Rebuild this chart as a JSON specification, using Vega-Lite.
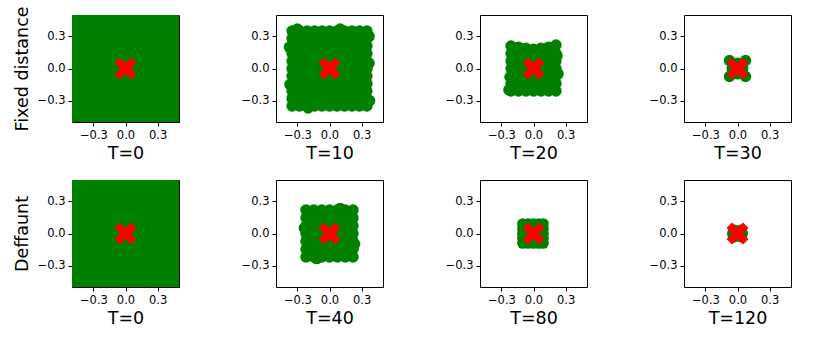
{
  "$schema": "https://vega.github.io/schema/vega-lite/v6.json",
  "padding": {"left": 12, "top": 5, "right": 10, "bottom": 5},
  "background": "white",
  "config": {
    "view": {"stroke": "black", "strokeWidth": 1},
    "axis": {"grid": false, "domain": false, "tickColor": "black", "tickSize": 4, "tickWidth": 1, "labelFont": "DejaVu Sans", "labelFontSize": 11.5, "labelColor": "black", "labelPadding": 3, "titleFont": "DejaVu Sans", "titleFontSize": 17.5, "titleFontWeight": "normal", "titleColor": "black"},
    "axisX": {"titlePadding": 4},
    "axisY": {"titlePadding": 6}
  },
  "datasets": {
    "c": [{"x": 0, "y": 0}],
    "full": [
      {"x":-0.5,"y":-0.5},{"x":-0.4,"y":-0.5},{"x":-0.3,"y":-0.5},{"x":-0.2,"y":-0.5},{"x":-0.1,"y":-0.5},{"x":0,"y":-0.5},{"x":0.1,"y":-0.5},{"x":0.2,"y":-0.5},{"x":0.3,"y":-0.5},{"x":0.4,"y":-0.5},{"x":0.5,"y":-0.5},
      {"x":-0.5,"y":-0.4},{"x":-0.4,"y":-0.4},{"x":-0.3,"y":-0.4},{"x":-0.2,"y":-0.4},{"x":-0.1,"y":-0.4},{"x":0,"y":-0.4},{"x":0.1,"y":-0.4},{"x":0.2,"y":-0.4},{"x":0.3,"y":-0.4},{"x":0.4,"y":-0.4},{"x":0.5,"y":-0.4},
      {"x":-0.5,"y":-0.3},{"x":-0.4,"y":-0.3},{"x":-0.3,"y":-0.3},{"x":-0.2,"y":-0.3},{"x":-0.1,"y":-0.3},{"x":0,"y":-0.3},{"x":0.1,"y":-0.3},{"x":0.2,"y":-0.3},{"x":0.3,"y":-0.3},{"x":0.4,"y":-0.3},{"x":0.5,"y":-0.3},
      {"x":-0.5,"y":-0.2},{"x":-0.4,"y":-0.2},{"x":-0.3,"y":-0.2},{"x":-0.2,"y":-0.2},{"x":-0.1,"y":-0.2},{"x":0,"y":-0.2},{"x":0.1,"y":-0.2},{"x":0.2,"y":-0.2},{"x":0.3,"y":-0.2},{"x":0.4,"y":-0.2},{"x":0.5,"y":-0.2},
      {"x":-0.5,"y":-0.1},{"x":-0.4,"y":-0.1},{"x":-0.3,"y":-0.1},{"x":-0.2,"y":-0.1},{"x":-0.1,"y":-0.1},{"x":0,"y":-0.1},{"x":0.1,"y":-0.1},{"x":0.2,"y":-0.1},{"x":0.3,"y":-0.1},{"x":0.4,"y":-0.1},{"x":0.5,"y":-0.1},
      {"x":-0.5,"y":0},{"x":-0.4,"y":0},{"x":-0.3,"y":0},{"x":-0.2,"y":0},{"x":-0.1,"y":0},{"x":0,"y":0},{"x":0.1,"y":0},{"x":0.2,"y":0},{"x":0.3,"y":0},{"x":0.4,"y":0},{"x":0.5,"y":0},
      {"x":-0.5,"y":0.1},{"x":-0.4,"y":0.1},{"x":-0.3,"y":0.1},{"x":-0.2,"y":0.1},{"x":-0.1,"y":0.1},{"x":0,"y":0.1},{"x":0.1,"y":0.1},{"x":0.2,"y":0.1},{"x":0.3,"y":0.1},{"x":0.4,"y":0.1},{"x":0.5,"y":0.1},
      {"x":-0.5,"y":0.2},{"x":-0.4,"y":0.2},{"x":-0.3,"y":0.2},{"x":-0.2,"y":0.2},{"x":-0.1,"y":0.2},{"x":0,"y":0.2},{"x":0.1,"y":0.2},{"x":0.2,"y":0.2},{"x":0.3,"y":0.2},{"x":0.4,"y":0.2},{"x":0.5,"y":0.2},
      {"x":-0.5,"y":0.3},{"x":-0.4,"y":0.3},{"x":-0.3,"y":0.3},{"x":-0.2,"y":0.3},{"x":-0.1,"y":0.3},{"x":0,"y":0.3},{"x":0.1,"y":0.3},{"x":0.2,"y":0.3},{"x":0.3,"y":0.3},{"x":0.4,"y":0.3},{"x":0.5,"y":0.3},
      {"x":-0.5,"y":0.4},{"x":-0.4,"y":0.4},{"x":-0.3,"y":0.4},{"x":-0.2,"y":0.4},{"x":-0.1,"y":0.4},{"x":0,"y":0.4},{"x":0.1,"y":0.4},{"x":0.2,"y":0.4},{"x":0.3,"y":0.4},{"x":0.4,"y":0.4},{"x":0.5,"y":0.4},
      {"x":-0.5,"y":0.5},{"x":-0.4,"y":0.5},{"x":-0.3,"y":0.5},{"x":-0.2,"y":0.5},{"x":-0.1,"y":0.5},{"x":0,"y":0.5},{"x":0.1,"y":0.5},{"x":0.2,"y":0.5},{"x":0.3,"y":0.5},{"x":0.4,"y":0.5},{"x":0.5,"y":0.5}
    ],
    "f10": [
      {"x":-0.35,"y":-0.35},{"x":-0.28,"y":-0.35},{"x":-0.21,"y":-0.35},{"x":-0.14,"y":-0.35},{"x":-0.07,"y":-0.35},{"x":0,"y":-0.35},{"x":0.07,"y":-0.35},{"x":0.14,"y":-0.35},{"x":0.21,"y":-0.35},{"x":0.28,"y":-0.35},{"x":0.35,"y":-0.35},
      {"x":-0.35,"y":-0.28},{"x":-0.28,"y":-0.28},{"x":-0.21,"y":-0.28},{"x":-0.14,"y":-0.28},{"x":-0.07,"y":-0.28},{"x":0,"y":-0.28},{"x":0.07,"y":-0.28},{"x":0.14,"y":-0.28},{"x":0.21,"y":-0.28},{"x":0.28,"y":-0.28},{"x":0.35,"y":-0.28},
      {"x":-0.35,"y":-0.21},{"x":-0.28,"y":-0.21},{"x":-0.21,"y":-0.21},{"x":-0.14,"y":-0.21},{"x":-0.07,"y":-0.21},{"x":0,"y":-0.21},{"x":0.07,"y":-0.21},{"x":0.14,"y":-0.21},{"x":0.21,"y":-0.21},{"x":0.28,"y":-0.21},{"x":0.35,"y":-0.21},
      {"x":-0.35,"y":-0.14},{"x":-0.28,"y":-0.14},{"x":-0.21,"y":-0.14},{"x":-0.14,"y":-0.14},{"x":-0.07,"y":-0.14},{"x":0,"y":-0.14},{"x":0.07,"y":-0.14},{"x":0.14,"y":-0.14},{"x":0.21,"y":-0.14},{"x":0.28,"y":-0.14},{"x":0.35,"y":-0.14},
      {"x":-0.35,"y":-0.07},{"x":-0.28,"y":-0.07},{"x":-0.21,"y":-0.07},{"x":-0.14,"y":-0.07},{"x":-0.07,"y":-0.07},{"x":0,"y":-0.07},{"x":0.07,"y":-0.07},{"x":0.14,"y":-0.07},{"x":0.21,"y":-0.07},{"x":0.28,"y":-0.07},{"x":0.35,"y":-0.07},
      {"x":-0.35,"y":0},{"x":-0.28,"y":0},{"x":-0.21,"y":0},{"x":-0.14,"y":0},{"x":-0.07,"y":0},{"x":0,"y":0},{"x":0.07,"y":0},{"x":0.14,"y":0},{"x":0.21,"y":0},{"x":0.28,"y":0},{"x":0.35,"y":0},
      {"x":-0.35,"y":0.07},{"x":-0.28,"y":0.07},{"x":-0.21,"y":0.07},{"x":-0.14,"y":0.07},{"x":-0.07,"y":0.07},{"x":0,"y":0.07},{"x":0.07,"y":0.07},{"x":0.14,"y":0.07},{"x":0.21,"y":0.07},{"x":0.28,"y":0.07},{"x":0.35,"y":0.07},
      {"x":-0.35,"y":0.14},{"x":-0.28,"y":0.14},{"x":-0.21,"y":0.14},{"x":-0.14,"y":0.14},{"x":-0.07,"y":0.14},{"x":0,"y":0.14},{"x":0.07,"y":0.14},{"x":0.14,"y":0.14},{"x":0.21,"y":0.14},{"x":0.28,"y":0.14},{"x":0.35,"y":0.14},
      {"x":-0.35,"y":0.21},{"x":-0.28,"y":0.21},{"x":-0.21,"y":0.21},{"x":-0.14,"y":0.21},{"x":-0.07,"y":0.21},{"x":0,"y":0.21},{"x":0.07,"y":0.21},{"x":0.14,"y":0.21},{"x":0.21,"y":0.21},{"x":0.28,"y":0.21},{"x":0.35,"y":0.21},
      {"x":-0.35,"y":0.28},{"x":-0.28,"y":0.28},{"x":-0.21,"y":0.28},{"x":-0.14,"y":0.28},{"x":-0.07,"y":0.28},{"x":0,"y":0.28},{"x":0.07,"y":0.28},{"x":0.14,"y":0.28},{"x":0.21,"y":0.28},{"x":0.28,"y":0.28},{"x":0.35,"y":0.28},
      {"x":-0.35,"y":0.35},{"x":-0.28,"y":0.35},{"x":-0.21,"y":0.35},{"x":-0.14,"y":0.35},{"x":-0.07,"y":0.35},{"x":0,"y":0.35},{"x":0.07,"y":0.35},{"x":0.14,"y":0.35},{"x":0.21,"y":0.35},{"x":0.28,"y":0.35},{"x":0.35,"y":0.35},
      {"x":-0.375,"y":0.2},{"x":0.375,"y":-0.3},{"x":0.1,"y":0.37},{"x":-0.2,"y":-0.37},{"x":0.37,"y":0.05},{"x":-0.37,"y":-0.15},{"x":0.37,"y":0.3},{"x":-0.3,"y":0.37}
    ],
    "f20": [
      {"x":-0.21,"y":-0.21},{"x":-0.14,"y":-0.21},{"x":-0.07,"y":-0.21},{"x":0,"y":-0.21},{"x":0.07,"y":-0.21},{"x":0.14,"y":-0.21},{"x":0.21,"y":-0.21},
      {"x":-0.21,"y":-0.14},{"x":-0.14,"y":-0.14},{"x":-0.07,"y":-0.14},{"x":0,"y":-0.14},{"x":0.07,"y":-0.14},{"x":0.14,"y":-0.14},{"x":0.21,"y":-0.14},
      {"x":-0.21,"y":-0.07},{"x":-0.14,"y":-0.07},{"x":-0.07,"y":-0.07},{"x":0,"y":-0.07},{"x":0.07,"y":-0.07},{"x":0.14,"y":-0.07},{"x":0.21,"y":-0.07},
      {"x":-0.21,"y":0},{"x":-0.14,"y":0},{"x":-0.07,"y":0},{"x":0,"y":0},{"x":0.07,"y":0},{"x":0.14,"y":0},{"x":0.21,"y":0},
      {"x":-0.21,"y":0.07},{"x":-0.14,"y":0.07},{"x":-0.07,"y":0.07},{"x":0,"y":0.07},{"x":0.07,"y":0.07},{"x":0.14,"y":0.07},{"x":0.21,"y":0.07},
      {"x":-0.21,"y":0.14},{"x":-0.14,"y":0.14},{"x":-0.07,"y":0.14},{"x":0,"y":0.14},{"x":0.07,"y":0.14},{"x":0.14,"y":0.14},{"x":0.21,"y":0.14},
      {"x":-0.21,"y":0.21},{"x":-0.14,"y":0.2},{"x":-0.07,"y":0.19},{"x":0,"y":0.18},{"x":0.07,"y":0.19},{"x":0.14,"y":0.2},{"x":0.21,"y":0.22},
      {"x":-0.23,"y":-0.2},{"x":0.23,"y":-0.05},{"x":-0.22,"y":-0.08},{"x":0.22,"y":0.12}
    ],
    "f30": [
      {"x":0,"y":0},{"x":-0.075,"y":-0.075},{"x":0.075,"y":-0.075},{"x":-0.075,"y":0.075},{"x":0.075,"y":0.075},
      {"x":-0.04,"y":-0.04},{"x":0.04,"y":-0.04},{"x":-0.04,"y":0.04},{"x":0.04,"y":0.04},
      {"x":0,"y":-0.05},{"x":0,"y":0.05},{"x":-0.05,"y":0},{"x":0.05,"y":0}
    ],
    "d40": [
      {"x":-0.22,"y":-0.22},{"x":-0.147,"y":-0.22},{"x":-0.073,"y":-0.22},{"x":0,"y":-0.22},{"x":0.073,"y":-0.22},{"x":0.147,"y":-0.22},{"x":0.22,"y":-0.22},
      {"x":-0.22,"y":-0.147},{"x":-0.147,"y":-0.147},{"x":-0.073,"y":-0.147},{"x":0,"y":-0.147},{"x":0.073,"y":-0.147},{"x":0.147,"y":-0.147},{"x":0.22,"y":-0.147},
      {"x":-0.22,"y":-0.073},{"x":-0.147,"y":-0.073},{"x":-0.073,"y":-0.073},{"x":0,"y":-0.073},{"x":0.073,"y":-0.073},{"x":0.147,"y":-0.073},{"x":0.22,"y":-0.073},
      {"x":-0.22,"y":0},{"x":-0.147,"y":0},{"x":-0.073,"y":0},{"x":0,"y":0},{"x":0.073,"y":0},{"x":0.147,"y":0},{"x":0.22,"y":0},
      {"x":-0.22,"y":0.073},{"x":-0.147,"y":0.073},{"x":-0.073,"y":0.073},{"x":0,"y":0.073},{"x":0.073,"y":0.073},{"x":0.147,"y":0.073},{"x":0.22,"y":0.073},
      {"x":-0.22,"y":0.147},{"x":-0.147,"y":0.147},{"x":-0.073,"y":0.147},{"x":0,"y":0.147},{"x":0.073,"y":0.147},{"x":0.147,"y":0.147},{"x":0.22,"y":0.147},
      {"x":-0.22,"y":0.22},{"x":-0.147,"y":0.22},{"x":-0.073,"y":0.22},{"x":0,"y":0.22},{"x":0.073,"y":0.22},{"x":0.147,"y":0.22},{"x":0.22,"y":0.22},
      {"x":-0.235,"y":0.05},{"x":0.235,"y":-0.1},{"x":0.1,"y":0.235},{"x":-0.12,"y":-0.235}
    ],
    "d80": [
      {"x":-0.1,"y":-0.09},{"x":-0.05,"y":-0.09},{"x":0,"y":-0.09},{"x":0.05,"y":-0.09},{"x":0.09,"y":-0.09},
      {"x":-0.1,"y":-0.045},{"x":-0.05,"y":-0.045},{"x":0,"y":-0.045},{"x":0.05,"y":-0.045},{"x":0.09,"y":-0.045},
      {"x":-0.1,"y":0},{"x":-0.05,"y":0},{"x":0,"y":0},{"x":0.05,"y":0},{"x":0.09,"y":0},
      {"x":-0.1,"y":0.045},{"x":-0.05,"y":0.045},{"x":0,"y":0.045},{"x":0.05,"y":0.045},{"x":0.09,"y":0.045},
      {"x":-0.1,"y":0.09},{"x":-0.05,"y":0.09},{"x":0,"y":0.09},{"x":0.05,"y":0.09},{"x":0.09,"y":0.09}
    ],
    "d120": [
      {"x":0,"y":0},{"x":-0.03,"y":-0.03},{"x":0.03,"y":-0.03},{"x":-0.03,"y":0.03},{"x":0.03,"y":0.03},{"x":-0.045,"y":0},{"x":0.045,"y":0}
    ]
  },
  "vconcat": [
    {
      "hconcat": [
        {"width": 107, "height": 107,
         "encoding": {"x": {"field": "x", "type": "quantitative", "scale": {"domain": [-0.5, 0.5], "nice": false, "zero": false}, "axis": {"values": [-0.3, 0, 0.3], "format": ".1f", "title": "T=0"}},
                      "y": {"field": "y", "type": "quantitative", "scale": {"domain": [-0.5, 0.5], "nice": false, "zero": false}, "axis": {"values": [-0.3, 0, 0.3], "format": ".1f", "title": "Fixed distance"}}},
         "layer": [
           {"data": {"name": "full"}, "mark": {"type": "point", "filled": true, "shape": "circle", "size": 260, "color": "#008000", "opacity": 1, "clip": true}},
           {"data": {"name": "c"}, "mark": {"type": "point", "filled": true, "shape": "M-1,-0.5L-0.5,-1L0,-0.5L0.5,-1L1,-0.5L0.5,0L1,0.5L0.5,1L0,0.5L-0.5,1L-1,0.5L-0.5,0Z", "size": 484, "color": "#ff0000", "opacity": 1}}
         ]},
        {"width": 107, "height": 107,
         "encoding": {"x": {"field": "x", "type": "quantitative", "scale": {"domain": [-0.5, 0.5], "nice": false, "zero": false}, "axis": {"values": [-0.3, 0, 0.3], "format": ".1f", "title": "T=10"}},
                      "y": {"field": "y", "type": "quantitative", "scale": {"domain": [-0.5, 0.5], "nice": false, "zero": false}, "axis": {"values": [-0.3, 0, 0.3], "format": ".1f", "title": null}}},
         "layer": [
           {"data": {"name": "f10"}, "mark": {"type": "point", "filled": true, "shape": "circle", "size": 130, "color": "#008000", "opacity": 1, "clip": true}},
           {"data": {"name": "c"}, "mark": {"type": "point", "filled": true, "shape": "M-1,-0.5L-0.5,-1L0,-0.5L0.5,-1L1,-0.5L0.5,0L1,0.5L0.5,1L0,0.5L-0.5,1L-1,0.5L-0.5,0Z", "size": 484, "color": "#ff0000", "opacity": 1}}
         ]},
        {"width": 107, "height": 107,
         "encoding": {"x": {"field": "x", "type": "quantitative", "scale": {"domain": [-0.5, 0.5], "nice": false, "zero": false}, "axis": {"values": [-0.3, 0, 0.3], "format": ".1f", "title": "T=20"}},
                      "y": {"field": "y", "type": "quantitative", "scale": {"domain": [-0.5, 0.5], "nice": false, "zero": false}, "axis": {"values": [-0.3, 0, 0.3], "format": ".1f", "title": null}}},
         "layer": [
           {"data": {"name": "f20"}, "mark": {"type": "point", "filled": true, "shape": "circle", "size": 130, "color": "#008000", "opacity": 1, "clip": true}},
           {"data": {"name": "c"}, "mark": {"type": "point", "filled": true, "shape": "M-1,-0.5L-0.5,-1L0,-0.5L0.5,-1L1,-0.5L0.5,0L1,0.5L0.5,1L0,0.5L-0.5,1L-1,0.5L-0.5,0Z", "size": 484, "color": "#ff0000", "opacity": 1}}
         ]},
        {"width": 107, "height": 107,
         "encoding": {"x": {"field": "x", "type": "quantitative", "scale": {"domain": [-0.5, 0.5], "nice": false, "zero": false}, "axis": {"values": [-0.3, 0, 0.3], "format": ".1f", "title": "T=30"}},
                      "y": {"field": "y", "type": "quantitative", "scale": {"domain": [-0.5, 0.5], "nice": false, "zero": false}, "axis": {"values": [-0.3, 0, 0.3], "format": ".1f", "title": null}}},
         "layer": [
           {"data": {"name": "f30"}, "mark": {"type": "point", "filled": true, "shape": "circle", "size": 130, "color": "#008000", "opacity": 1, "clip": true}},
           {"data": {"name": "c"}, "mark": {"type": "point", "filled": true, "shape": "M-1,-0.5L-0.5,-1L0,-0.5L0.5,-1L1,-0.5L0.5,0L1,0.5L0.5,1L0,0.5L-0.5,1L-1,0.5L-0.5,0Z", "size": 484, "color": "#ff0000", "opacity": 1}}
         ]}
      ],
      "spacing": 97, "bounds": "flush"
    },
    {
      "hconcat": [
        {"width": 107, "height": 107,
         "encoding": {"x": {"field": "x", "type": "quantitative", "scale": {"domain": [-0.5, 0.5], "nice": false, "zero": false}, "axis": {"values": [-0.3, 0, 0.3], "format": ".1f", "title": "T=0"}},
                      "y": {"field": "y", "type": "quantitative", "scale": {"domain": [-0.5, 0.5], "nice": false, "zero": false}, "axis": {"values": [-0.3, 0, 0.3], "format": ".1f", "title": "Deffaunt"}}},
         "layer": [
           {"data": {"name": "full"}, "mark": {"type": "point", "filled": true, "shape": "circle", "size": 260, "color": "#008000", "opacity": 1, "clip": true}},
           {"data": {"name": "c"}, "mark": {"type": "point", "filled": true, "shape": "M-1,-0.5L-0.5,-1L0,-0.5L0.5,-1L1,-0.5L0.5,0L1,0.5L0.5,1L0,0.5L-0.5,1L-1,0.5L-0.5,0Z", "size": 484, "color": "#ff0000", "opacity": 1}}
         ]},
        {"width": 107, "height": 107,
         "encoding": {"x": {"field": "x", "type": "quantitative", "scale": {"domain": [-0.5, 0.5], "nice": false, "zero": false}, "axis": {"values": [-0.3, 0, 0.3], "format": ".1f", "title": "T=40"}},
                      "y": {"field": "y", "type": "quantitative", "scale": {"domain": [-0.5, 0.5], "nice": false, "zero": false}, "axis": {"values": [-0.3, 0, 0.3], "format": ".1f", "title": null}}},
         "layer": [
           {"data": {"name": "d40"}, "mark": {"type": "point", "filled": true, "shape": "circle", "size": 130, "color": "#008000", "opacity": 1, "clip": true}},
           {"data": {"name": "c"}, "mark": {"type": "point", "filled": true, "shape": "M-1,-0.5L-0.5,-1L0,-0.5L0.5,-1L1,-0.5L0.5,0L1,0.5L0.5,1L0,0.5L-0.5,1L-1,0.5L-0.5,0Z", "size": 484, "color": "#ff0000", "opacity": 1}}
         ]},
        {"width": 107, "height": 107,
         "encoding": {"x": {"field": "x", "type": "quantitative", "scale": {"domain": [-0.5, 0.5], "nice": false, "zero": false}, "axis": {"values": [-0.3, 0, 0.3], "format": ".1f", "title": "T=80"}},
                      "y": {"field": "y", "type": "quantitative", "scale": {"domain": [-0.5, 0.5], "nice": false, "zero": false}, "axis": {"values": [-0.3, 0, 0.3], "format": ".1f", "title": null}}},
         "layer": [
           {"data": {"name": "d80"}, "mark": {"type": "point", "filled": true, "shape": "circle", "size": 130, "color": "#008000", "opacity": 1, "clip": true}},
           {"data": {"name": "c"}, "mark": {"type": "point", "filled": true, "shape": "M-1,-0.5L-0.5,-1L0,-0.5L0.5,-1L1,-0.5L0.5,0L1,0.5L0.5,1L0,0.5L-0.5,1L-1,0.5L-0.5,0Z", "size": 484, "color": "#ff0000", "opacity": 1}}
         ]},
        {"width": 107, "height": 107,
         "encoding": {"x": {"field": "x", "type": "quantitative", "scale": {"domain": [-0.5, 0.5], "nice": false, "zero": false}, "axis": {"values": [-0.3, 0, 0.3], "format": ".1f", "title": "T=120"}},
                      "y": {"field": "y", "type": "quantitative", "scale": {"domain": [-0.5, 0.5], "nice": false, "zero": false}, "axis": {"values": [-0.3, 0, 0.3], "format": ".1f", "title": null}}},
         "layer": [
           {"data": {"name": "d120"}, "mark": {"type": "point", "filled": true, "shape": "circle", "size": 130, "color": "#008000", "opacity": 1, "clip": true}},
           {"data": {"name": "c"}, "mark": {"type": "point", "filled": true, "shape": "M-1,-0.5L-0.5,-1L0,-0.5L0.5,-1L1,-0.5L0.5,0L1,0.5L0.5,1L0,0.5L-0.5,1L-1,0.5L-0.5,0Z", "size": 484, "color": "#ff0000", "opacity": 1}}
         ]}
      ],
      "spacing": 97, "bounds": "flush"
    }
  ],
  "spacing": 16
}
